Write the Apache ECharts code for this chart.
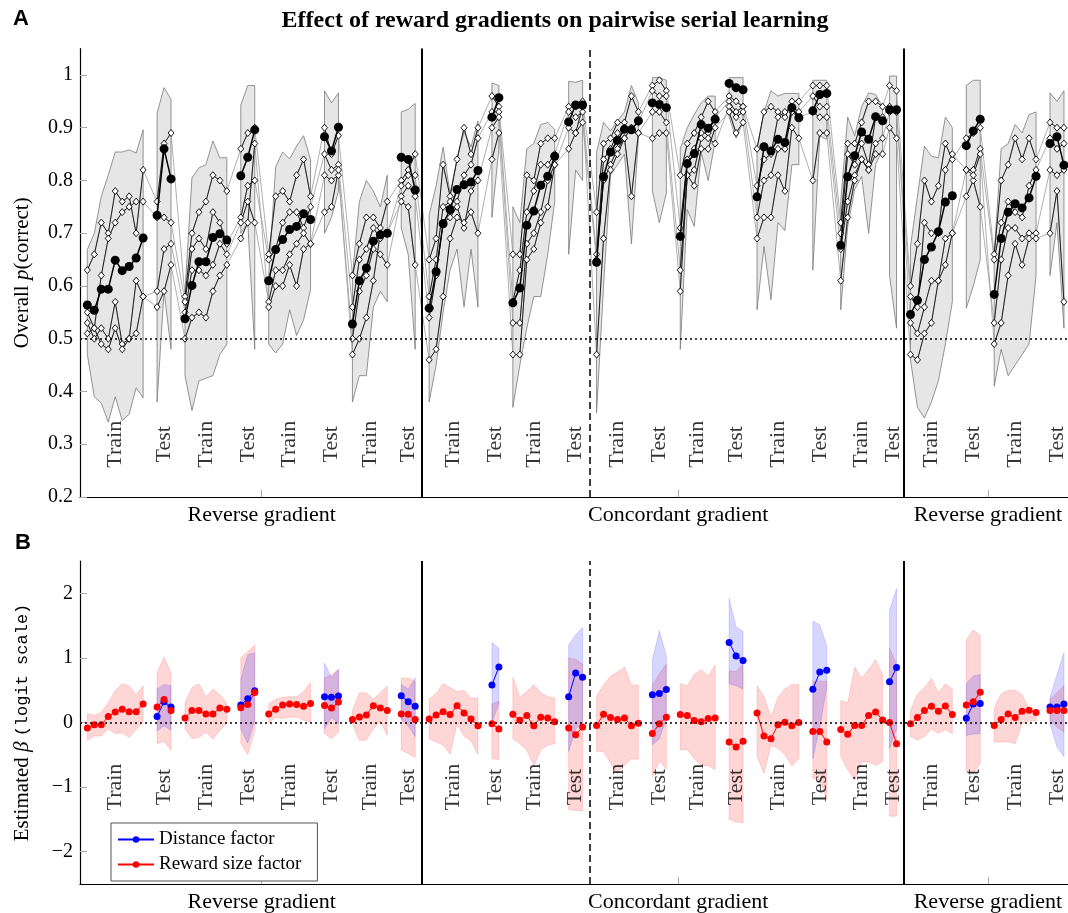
<!DOCTYPE html>
<html><head><meta charset="utf-8">
<script src="https://cdn.jsdelivr.net/npm/echarts@6/dist/echarts.min.js"></script>
<style>html,body{margin:0;padding:0;background:#fff}#c{width:1068px;height:913px}</style>
</head><body><div id="c"></div>
<script>
// ---------- layout of sessions (x index of first point in each block) ----------
const blockStart = [0,10,14,22,26,34,38,45,49,58,61,69,73,81,85,92,96,104,108,115,118,126,130,138];
const blockType  = ['Train','Test','Train','Test','Train','Test','Train','Test','Train','Test','Train','Test','Train','Test','Train','Test','Train','Test','Train','Test','Train','Test','Train','Test'];
const separators = [48, 72, 117];
const separatorStyle = ['solid','dashed','solid'];
const sectionTicks = [25, 84.7, 129.1];
const sectionNames = ['Reverse gradient','Concordant gradient','Reverse gradient'];
const yTicksA = [0.2,0.3,0.4,0.5,0.6,0.7,0.8,0.9,1];
const yTicksB = [-2,-1,0,1,2];

// ---------- Panel A: overall p(correct) ----------
const meanA = [
[0.564,0.554,0.594,0.594,0.649,0.629,0.637,0.653,0.691],[0.734,0.860,0.803],
[0.538,0.601,0.646,0.646,0.692,0.699,0.687],[0.809,0.844,0.896],
[0.610,0.669,0.688,0.707,0.713,0.737,0.726],[0.883,0.856,0.901],
[0.528,0.610,0.634,0.685,0.697,0.700],[0.844,0.840,0.782],
[0.558,0.627,0.718,0.745,0.783,0.792,0.797,0.819],[0.920,0.957],
[0.568,0.596,0.715,0.742,0.791,0.808,0.846],[0.911,0.943,0.943],
[0.645,0.807,0.854,0.876,0.897,0.896,0.913],[0.947,0.944,0.938],
[0.694,0.832,0.851,0.906,0.899,0.916],[0.984,0.976,0.972],
[0.769,0.864,0.856,0.878,0.872,0.938,0.919],[0.932,0.963,0.965],
[0.677,0.807,0.847,0.892,0.878,0.921,0.913],[0.934,0.934],
[0.546,0.573,0.650,0.674,0.703,0.759,0.771],[0.866,0.894,0.916],
[0.584,0.690,0.740,0.756,0.748,0.767,0.808],[0.870,0.883,0.829]
];
const hiA = [
[0.669,0.70,0.77,0.81,0.854,0.854,0.858,0.852,0.896],[0.928,0.976,0.954],
[0.59,0.805,0.824,0.83,0.875,0.843,0.843],[0.943,0.98,0.98],
[0.62,0.826,0.854,0.841,0.865,0.885,0.84],[0.97,0.947,0.966],
[0.62,0.76,0.80,0.78,0.75,0.81],[0.93,0.935,0.946],
[0.735,0.79,0.863,0.775,0.841,0.892,0.864,0.913],[0.985,0.98],
[0.75,0.72,0.86,0.87,0.906,0.91,0.897],[0.988,0.986,0.99],
[0.853,0.91,0.894,0.913,0.93,0.98,0.947],[0.995,0.995,0.99],
[0.86,0.90,0.925,0.947,0.96,0.96],[0.995,0.995,0.995],
[0.86,0.93,0.97,0.96,0.965,0.965,0.965],[0.99,0.99,0.99],
[0.76,0.92,0.885,0.94,0.966,0.963,0.94],[0.998,0.998],
[0.675,0.77,0.865,0.846,0.843,0.92,0.90],[0.98,0.99,0.99],
[0.66,0.86,0.87,0.906,0.89,0.925,0.93],[0.966,0.95,0.97]
];
const loA = [
[0.47,0.39,0.378,0.342,0.39,0.345,0.357,0.407,0.388],[0.38,0.59,0.48],
[0.43,0.364,0.42,0.425,0.43,0.47,0.49],[0.70,0.72,0.48],
[0.49,0.473,0.49,0.555,0.506,0.536,0.593],[0.70,0.73,0.78],
[0.38,0.43,0.43,0.56,0.59,0.57],[0.71,0.66,0.48],
[0.38,0.45,0.55,0.63,0.67,0.56,0.67,0.56],[0.73,0.86],
[0.37,0.45,0.52,0.58,0.58,0.66,0.76],[0.66,0.82,0.80],
[0.36,0.60,0.81,0.83,0.85,0.68,0.88],[0.78,0.72,0.776],
[0.48,0.745,0.713,0.853,0.80,0.875],[0.92,0.88,0.91],
[0.555,0.675,0.574,0.72,0.705,0.83,0.83],[0.63,0.884,0.878],
[0.555,0.713,0.783,0.808,0.70,0.83,0.86],[0.62,0.52],
[0.46,0.37,0.35,0.38,0.42,0.49,0.57],[0.558,0.60,0.65],
[0.41,0.48,0.43,0.45,0.47,0.49,0.62],[0.62,0.72,0.52]
];
const subj1 = [
[0.63,0.66,0.72,0.70,0.78,0.76,0.77,0.70,0.82],[0.76,0.87,0.89],
[0.58,0.70,0.74,0.76,0.81,0.80,0.78],[0.86,0.89,0.90],
[0.66,0.77,0.78,0.76,0.81,0.84,0.77],[0.90,0.85,0.885],
[0.62,0.68,0.73,0.73,0.71,0.76],[0.80,0.82,0.85],
[0.65,0.69,0.83,0.77,0.84,0.90,0.85,0.90],[0.96,0.94],
[0.66,0.66,0.81,0.80,0.87,0.88,0.88],[0.94,0.94,0.95],
[0.74,0.87,0.88,0.91,0.91,0.96,0.93],[0.98,0.99,0.97],
[0.81,0.87,0.89,0.92,0.95,0.93],[0.96,0.95,0.94],
[0.86,0.93,0.94,0.93,0.92,0.95,0.95],[0.98,0.98,0.98],
[0.72,0.87,0.87,0.91,0.95,0.95,0.94],[0.98,0.97],
[0.60,0.68,0.80,0.76,0.79,0.87,0.84],[0.88,0.89,0.90],
[0.66,0.80,0.83,0.88,0.84,0.88,0.84],[0.91,0.90,0.90]
];
const subj2 = [
[0.55,0.52,0.62,0.69,0.72,0.74,0.75,0.76,0.76],[0.73,0.73,0.72],
[0.57,0.67,0.69,0.67,0.74,0.72,0.68],[0.73,0.79,0.80],
[0.65,0.67,0.72,0.74,0.74,0.71,0.75],[0.85,0.82,0.83],
[0.56,0.65,0.67,0.71,0.69,0.70],[0.79,0.81,0.81],
[0.58,0.65,0.75,0.76,0.76,0.81,0.83,0.88],[0.93,0.93],
[0.57,0.63,0.74,0.78,0.83,0.83,0.85],[0.93,0.92,0.93],
[0.66,0.84,0.86,0.89,0.90,0.90,0.91],[0.97,0.96,0.96],
[0.71,0.84,0.86,0.89,0.89,0.92],[0.95,0.93,0.94],
[0.79,0.84,0.85,0.92,0.93,0.94,0.93],[0.96,0.94,0.94],
[0.70,0.85,0.83,0.87,0.83,0.92,0.92],[0.94,0.93],
[0.58,0.56,0.72,0.70,0.70,0.82,0.85],[0.82,0.82,0.86],
[0.65,0.72,0.76,0.74,0.73,0.79,0.82],[0.88,0.86,0.87]
];
const subj3 = [
[0.53,0.50,0.52,0.50,0.57,0.49,0.50,0.61,0.58],[0.59,0.67,0.68],
[0.55,0.63,0.63,0.62,0.64,0.68,0.66],[0.72,0.76,0.72],
[0.57,0.63,0.63,0.66,0.68,0.70,0.68],[0.81,0.80,0.81],
[0.50,0.59,0.62,0.67,0.66,0.64],[0.77,0.79,0.77],
[0.54,0.62,0.72,0.73,0.75,0.71,0.78,0.80],[0.90,0.92],
[0.53,0.53,0.68,0.70,0.74,0.80,0.83],[0.90,0.89,0.91],
[0.65,0.80,0.83,0.86,0.88,0.90,0.89],[0.93,0.93,0.91],
[0.63,0.81,0.82,0.88,0.88,0.87],[0.94,0.92,0.93],
[0.73,0.80,0.81,0.86,0.86,0.93,0.92],[0.93,0.92,0.92],
[0.67,0.76,0.81,0.84,0.82,0.87,0.88],[0.93,0.93],
[0.53,0.51,0.56,0.61,0.61,0.69,0.70],[0.77,0.80,0.75],
[0.53,0.65,0.71,0.71,0.69,0.70,0.70],[0.82,0.81,0.82]
];
const subj4 = [
[0.51,0.52,0.49,0.48,0.52,0.48,0.50,0.51,0.58],[0.56,0.59,0.64],
[0.50,0.54,0.55,0.54,0.59,0.62,0.64],[0.69,0.72,0.87],
[0.56,0.60,0.60,0.64,0.60,0.67,0.68],[0.74,0.75,0.82],
[0.47,0.50,0.54,0.61,0.70,0.70],[0.76,0.75,0.64],
[0.46,0.48,0.58,0.69,0.73,0.72,0.74,0.70],[0.84,0.89],
[0.47,0.47,0.65,0.67,0.72,0.75,0.83],[0.86,0.89,0.94],
[0.47,0.69,0.82,0.85,0.88,0.77,0.89],[0.88,0.89,0.89],
[0.59,0.81,0.79,0.86,0.86,0.90],[0.93,0.89,0.91],
[0.69,0.73,0.73,0.81,0.78,0.90,0.88],[0.80,0.89,0.89],
[0.61,0.73,0.80,0.84,0.82,0.85,0.85],[0.90,0.88],
[0.47,0.46,0.51,0.53,0.61,0.64,0.70],[0.82,0.81,0.85],
[0.49,0.53,0.62,0.68,0.64,0.69,0.69],[0.70,0.78,0.57]
];

// ---------- Panel B: estimated beta ----------
const rewardB = [
[-0.087,-0.036,-0.036,0.092,0.163,0.204,0.168,0.168,0.286],[0.24,0.357,0.184],
[0.071,0.184,0.184,0.133,0.133,0.224,0.204],[0.23,0.28,0.464],
[0.133,0.204,0.27,0.286,0.28,0.25,0.296],[0.265,0.224,0.316],
[0.046,0.087,0.117,0.26,0.224,0.184],[0.133,0.128,0.046],
[0.056,0.117,0.168,0.122,0.26,0.148,0.056,-0.05],[-0.02,-0.10],
[0.128,0.036,0.107,-0.05,0.082,0.071,0.01],[-0.087,-0.19,-0.07],
[-0.046,0.128,0.077,0.046,0.071,-0.05,-0.01],[-0.17,-0.02,0.082],
[0.122,0.107,0.03,0.01,0.061,0.071],[-0.30,-0.38,-0.29],
[0.148,-0.21,-0.25,-0.036,0.005,-0.05,0.0],[-0.14,-0.14,-0.30],
[-0.11,-0.18,-0.046,-0.046,0.107,0.163,0.04],[0.0,-0.33],
[-0.02,0.077,0.184,0.25,0.173,0.255,0.122],[0.27,0.32,0.47],
[-0.046,0.046,0.133,0.077,0.173,0.19,0.153],[0.184,0.184,0.184]
];
const rewardHi = [
[0.14,0.11,0.16,0.31,0.49,0.60,0.57,0.43,0.57],[0.77,1.01,0.77],
[0.31,0.54,0.60,0.40,0.52,0.43,0.30],[1.0,1.1,1.2],
[0.29,0.36,0.39,0.40,0.40,0.48,0.62],[0.69,0.74,0.82],
[0.18,0.46,0.46,0.36,0.46,0.57],[0.69,0.69,0.64],
[0.36,0.45,0.60,0.54,0.48,0.50,0.38,0.38],[0.29,0.33],
[0.70,0.39,0.48,0.59,0.46,0.40,0.38],[1.0,0.98,0.9],
[0.41,0.58,0.72,0.78,0.86,0.58,0.58],[0.59,0.75,0.91],
[0.60,0.57,0.74,0.82,0.72,0.89],[0.80,0.79,0.91],
[0.57,0.40,0.08,0.39,0.52,0.59,0.59],[0.64,0.64,0.64],
[0.34,0.30,0.86,0.69,0.82,0.97,0.74],[1.15,0.90],
[0.18,0.44,0.54,0.68,0.46,0.60,0.52],[1.28,1.43,1.35],
[0.23,0.44,0.50,0.50,0.43,0.21,0.13],[0.36,0.46,0.57]
];
const rewardLo = [
[-0.28,-0.21,-0.21,-0.10,-0.17,-0.16,-0.23,-0.11,0.0],[-0.33,-0.29,-0.43],
[-0.10,-0.25,-0.23,-0.15,-0.26,-0.12,-0.01],[-0.33,-0.50,-0.12],
[-0.01,0.08,0.06,0.08,0.08,0.04,0.0],[-0.17,-0.25,-0.15],
[-0.02,-0.28,-0.27,-0.10,0.02,-0.20],[-0.43,-0.48,-0.54],
[-0.25,-0.30,-0.35,-0.49,-0.02,-0.21,-0.29,-0.49],[-0.56,-0.57],
[-0.25,-0.33,-0.43,-0.67,-0.43,-0.35,-0.33],[-1.35,-1.36,-1.37],
[-0.45,-0.45,-0.63,-0.79,-0.66,-0.56,-0.57],[-0.84,-0.6,-0.72],
[-0.42,-0.42,-0.56,-0.66,-0.67,-0.73],[-1.5,-1.54,-1.55],
[-0.53,-0.79,-0.35,-0.40,-0.50,-0.67,-0.56],[-0.86,-0.90,-1.19],
[-0.53,-0.73,-0.89,-0.61,-0.61,-0.66,-0.61],[-1.45,-1.45],
[-0.22,-0.27,-0.22,-0.10,-0.17,-0.11,-0.17],[-0.76,-0.79,-0.63],
[-0.30,-0.30,-0.30,-0.33,-0.02,0.03,0.02],[0.03,-0.07,-0.15]
];
const distanceB = [null,[0.092,0.32,0.24],null,[0.27,0.367,0.49],null,[0.40,0.39,0.41],null,[0.413,0.32,0.25],
  null,[0.58,0.86],null,[0.40,0.765,0.70],null,[0.43,0.45,0.51],null,[1.24,1.03,0.96],null,[0.515,0.78,0.81],null,[0.63,0.85],
  null,[0.066,0.286,0.296],null,[0.24,0.24,0.286]];
const distanceHi = [null,[0.52,0.59,0.57],null,[0.67,1.05,1.08],null,[0.92,0.70,0.82],null,[0.59,0.52,0.69],
  null,[1.24,1.15],null,[1.2,1.36,1.47],null,[0.97,1.42,1.03],null,[1.92,1.48,1.41],null,[1.57,1.51,1.18],null,[1.74,2.07],
  null,[0.60,0.72,0.74],null,[0.39,0.74,1.08]];
const distanceLo = [null,[-0.13,-0.05,-0.12],null,[-0.10,-0.32,0.03],null,[-0.10,0.08,-0.02],null,[0.05,-0.05,-0.22],
  null,[0.0,0.29],null,[-0.45,-0.1,0.0],null,[-0.35,-0.25,0.05],null,[0.6,0.57,0.52],null,[-0.56,-0.07,0.54],null,[-0.40,-0.1],
  null,[-0.2,-0.18,-0.17],null,[-0.02,-0.38,-0.53]];

// ---------- helpers ----------
const SERIF = "'Liberation Serif','Times New Roman',serif";
const MONO = "'Liberation Mono','DejaVu Sans Mono',monospace";
function pts(arr, breaks) {
  const out = [];
  arr.forEach((blk, b) => {
    if (!blk) return;
    blk.forEach((v, i) => out.push([blockStart[b] + i, v]));
    if (breaks) out.push([blockStart[b] + blk.length, null]);
  });
  return out;
}
function band(name, lo, hi, fill, stroke, gi, z) {
  const idx = [];
  lo.forEach((b, k) => { if (b) idx.push(k); });
  return {
    type: 'custom', name, xAxisIndex: gi, yAxisIndex: gi, z, silent: true,
    data: idx.map(b => [blockStart[b], lo[b][0]]),
    encode: {x: 0, y: 1},
    renderItem: (params, api) => {
      const b = idx[params.dataIndex], s = blockStart[b];
      const p = [];
      hi[b].forEach((v, i) => p.push(api.coord([s + i, v])));
      for (let i = lo[b].length - 1; i >= 0; i--) p.push(api.coord([s + i, lo[b][i]]));
      return {type: 'polygon', shape: {points: p}, style: {fill, stroke, lineWidth: 0.8}};
    }
  };
}
function labels(gi, y) {
  return {
    type: 'scatter', xAxisIndex: gi, yAxisIndex: gi, symbolSize: 1, silent: true, z: 6,
    itemStyle: {color: 'rgba(0,0,0,0)'},
    data: blockStart.map((s, b) => ({name: blockType[b], value: [s + (meanA[b].length - 1) / 2, y]})),
    label: {show: true, formatter: '{b}', position: 'inside', rotate: 90, fontFamily: SERIF, fontSize: 22, color: '#000'}
  };
}
function sepLines(yLine) {
  const d = [{yAxis: yLine, lineStyle: {type: [2, 3], width: 1.6}}];
  separators.forEach((s, k) => d.push({xAxis: s, lineStyle: {type: separatorStyle[k] === 'dashed' ? [7, 4] : 'solid', width: separatorStyle[k] === 'dashed' ? 1.5 : 2}}));
  return {silent: true, symbol: ['none', 'none'], label: {show: false}, animation: false, lineStyle: {color: '#000'}, data: d};
}
function xAxisDef(gi) {
  return {
    type: 'value', gridIndex: gi, min: -1.05, max: 140.58,
    axisLine: {show: true, onZero: false, lineStyle: {color: '#000', width: 1.2}},
    splitLine: {show: false},
    axisTick: {show: true, inside: true, length: 7, customValues: sectionTicks, lineStyle: {color: '#aaa'}},
    axisLabel: {show: true, customValues: sectionTicks, margin: 7, fontFamily: SERIF, fontSize: 22, color: '#000',
      formatter: v => sectionNames[sectionTicks.findIndex(t => Math.abs(t - v) < 1e-6)] || ''}
  };
}
function yAxisDef(gi, min, max, ticks, name, fmt, gap) {
  return {
    type: 'value', gridIndex: gi, min, max,
    axisLine: {show: true, onZero: false, lineStyle: {color: '#000', width: 1.2}},
    splitLine: {show: false},
    axisTick: {show: true, inside: true, length: 7, customValues: ticks, lineStyle: {color: '#aaa'}},
    axisLabel: {show: true, customValues: ticks, margin: 7, fontFamily: SERIF, fontSize: 20, color: '#000', formatter: fmt},
    name, nameLocation: 'middle', nameRotate: 90, nameGap: gap,
    nameTextStyle: {fontFamily: SERIF, fontSize: 21, color: '#000',
      rich: {t: {fontFamily: SERIF, fontSize: 21, color: '#000'},
             i: {fontFamily: SERIF, fontSize: 21, fontStyle: 'italic', color: '#000'},
             m: {fontFamily: MONO, fontSize: 17, color: '#000'}}}
  };
}
const subjects = [subj1, subj2, subj3, subj4];
const series = [];
// Panel A
series.push(band('ciA', loA, hiA, '#e6e6e6', '#7a7a7a', 0, 1));
subjects.forEach(sj => series.push({type: 'line', xAxisIndex: 0, yAxisIndex: 0, z: 2, silent: true, symbol: 'none',
  lineStyle: {color: '#9a9a9a', width: 0.8}, data: pts(sj, false)}));
subjects.forEach(sj => series.push({type: 'line', xAxisIndex: 0, yAxisIndex: 0, z: 3, silent: true, connectNulls: false,
  symbol: 'diamond', symbolSize: [6, 7], itemStyle: {color: '#fff', borderColor: '#000', borderWidth: 0.9},
  lineStyle: {color: '#111', width: 0.9}, data: pts(sj, true)}));
series.push({type: 'line', xAxisIndex: 0, yAxisIndex: 0, z: 4, silent: true, connectNulls: false,
  symbol: 'circle', symbolSize: 9, itemStyle: {color: '#000'}, lineStyle: {color: '#000', width: 1.5},
  data: pts(meanA, true), markLine: sepLines(0.5)});
series.push(labels(0, 0.3));
// Panel B
series.push(band('ciR', rewardLo, rewardHi, 'rgba(255,0,0,0.16)', 'rgba(255,0,0,0.18)', 1, 1));
series.push(band('ciD', distanceLo, distanceHi, 'rgba(0,0,255,0.16)', 'rgba(0,0,255,0.18)', 1, 1));
series.push({type: 'line', name: 'Distance factor', xAxisIndex: 1, yAxisIndex: 1, z: 4, silent: true, connectNulls: false,
  symbol: 'circle', symbolSize: 7, itemStyle: {color: '#0000ff'}, lineStyle: {color: '#0000ff', width: 1},
  data: pts(distanceB, true)});
series.push({type: 'line', name: 'Reward size factor', xAxisIndex: 1, yAxisIndex: 1, z: 4, silent: true, connectNulls: false,
  symbol: 'circle', symbolSize: 7, itemStyle: {color: '#ff0000'}, lineStyle: {color: '#ff0000', width: 1},
  data: pts(rewardB, true), markLine: sepLines(0)});
series.push(labels(1, -1.0));

const option = {
  animation: false,
  backgroundColor: '#fff',
  grid: [
    {left: 80, right: 0, top: 48.6, height: 448.4, containLabel: false},
    {left: 80, right: 0, top: 561, height: 327.8, containLabel: false}
  ],
  xAxis: [xAxisDef(0), xAxisDef(1)],
  yAxis: [
    yAxisDef(0, 0.2, 1.05, yTicksA, '{t|Overall }{i|p}{t|(correct)}', v => (v === 1 ? '1' : v.toFixed(1)), 47),
    yAxisDef(1, -2.5, 2.5, yTicksB, '{t|Estimated }{i|β}{t| }{m|(logit scale)}', v => String(v).replace('-', '\u2212'), 47)
  ],
  legend: {
    data: ['Distance factor', 'Reward size factor'], orient: 'vertical', left: 111, top: 823,
    itemWidth: 36, itemHeight: 8, itemGap: 6, padding: [7, 16, 7, 6],
    borderColor: '#555', borderWidth: 1, backgroundColor: '#fff',
    textStyle: {fontFamily: SERIF, fontSize: 19, color: '#000'}, selectedMode: false
  },
  graphic: [
    {type: 'text', x: 555, y: 21, style: {text: 'Effect of reward gradients on pairwise serial learning', font: "bold 24px 'Liberation Serif'", align: 'center', verticalAlign: 'middle', fill: '#000'}},
    {type: 'text', x: 13, y: 19, style: {text: 'A', font: "bold 22px 'Liberation Sans Narrow','Liberation Sans'", align: 'left', verticalAlign: 'middle', fill: '#000'}},
    {type: 'text', x: 15, y: 543, style: {text: 'B', font: "bold 22px 'Liberation Sans Narrow','Liberation Sans'", align: 'left', verticalAlign: 'middle', fill: '#000'}}
  ],
  series
};
const chart = echarts.init(document.getElementById('c'));
chart.setOption(option);
</script>
</body></html>
